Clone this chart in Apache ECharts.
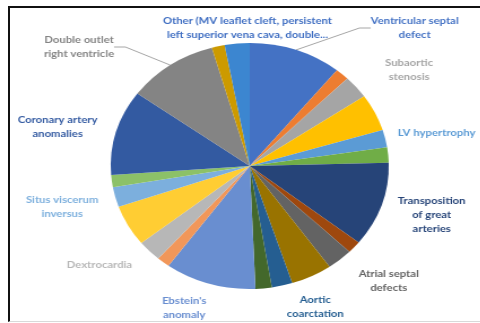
<!DOCTYPE html>
<html>
<head>
<meta charset="utf-8">
<script src="https://cdn.jsdelivr.net/npm/echarts@6/dist/echarts.min.js"></script>
<style>
    html, body { margin:0; padding:0; background:#fff; }
    #wrap { position:relative; width:480px; height:323px; overflow:hidden; }
    #frame { position:absolute; left:8px; top:6px; width:480px; height:313px; border-left:2px solid #111; border-top:2px solid #111; border-bottom:1px solid #d9d9d9; }
    /* the source picture is stretched sideways, so the chart is too */
    #main { position:absolute; left:0; top:0; width:425px; height:323px; transform:scaleX(1.13); transform-origin:0 0; }
</style>
</head>
<body>
<div id="wrap">
    <div id="frame"></div>
    <div id="main"></div>
</div>
<script>
// slices clockwise from 12 o'clock, only every other one carries a label
const names = [
    'Ventricular septal\ndefect', '', 'Subaortic\nstenosis', '', 'LV hypertrophy', '',
    'Transposition\nof great\narteries', '', 'Atrial septal\ndefects', '', 'Aortic\ncoarctation', '',
    'Ebstein\'s\nanomaly', '', 'Dextrocardia', '', 'Situs viscerum\ninversus', '',
    'Coronary artery\nanomalies', 'Double outlet\nright ventricle', '',
    'Other (MV leaflet cleft, persistent\nleft superior vena cava, double...'
];
const values = [10.8, 1.6, 3.0, 4.9, 2.3, 2.0, 11.1, 1.6, 3.0, 4.8, 2.4, 1.9, 10.6, 1.5, 2.8, 5.4, 2.6, 1.6, 11.2, 10.6, 1.5, 2.9];
const colors = [
    '#4472C4', '#ED7D31', '#A5A5A5', '#FFC000', '#5B9BD5', '#70AD47',
    '#264478', '#9E480E', '#636363', '#997300', '#255E91', '#43682B',
    '#698ED0', '#F1975A', '#B7B7B7', '#FFCD33', '#7CAFDD', '#8CC168',
    '#335AA1', '#848484', '#CC9A00', '#3C86D0'
];
const withLeader = [0, 19];

// where each label sits (chart px, before the sideways stretch)
const labelPos = {
    0:[367, 28], 2:[362, 70], 4:[352, 133], 6:[382, 215], 8:[344, 281], 10:[279, 307],
    12:[163, 308], 14:[88, 265], 16:[55, 207], 18:[51, 127], 19:[70, 47], 21:[219, 28]
};

const myChart = echarts.init(document.getElementById('main'));

let seriesData = names.map((name, i)=>{
    let shown = name !== '';
    return {
        name: name || ('s' + i),
        value: values[i],
        itemStyle: { color: colors[i] },
        label: { show: shown, color: i === 21 ? '#3F6EC2' : colors[i] },
        labelLine: { show: withLeader.indexOf(i) >= 0 }
    };
});

let option = {
    animation: false,
    series: [{
        type: 'pie',
        center: [221, 166],
        radius: 123,
        startAngle: 90,
        clockwise: true,
        avoidLabelOverlap: false,
        data: seriesData,
        label: {
            position: 'outside',
            formatter: '{b}',
            fontFamily: 'Lato',
            fontWeight: 'bold',
            fontSize: 10,
            lineHeight: 14,
            align: 'center'
        },
        labelLine: {
            length: 10,
            length2: 10,
            lineStyle: { color: '#a6a6a6', width: 1 }
        },
        labelLayout: (params)=>{
            let p = labelPos[params.dataIndex];
            if ( !p ) return {};
            return {
                x: p[0],
                y: p[1],
                align: params.dataIndex === 4 ? 'left' : 'center',
                verticalAlign: 'middle'
            };
        }
    }]
};
myChart.setOption(option);
</script>
</body>
</html>
